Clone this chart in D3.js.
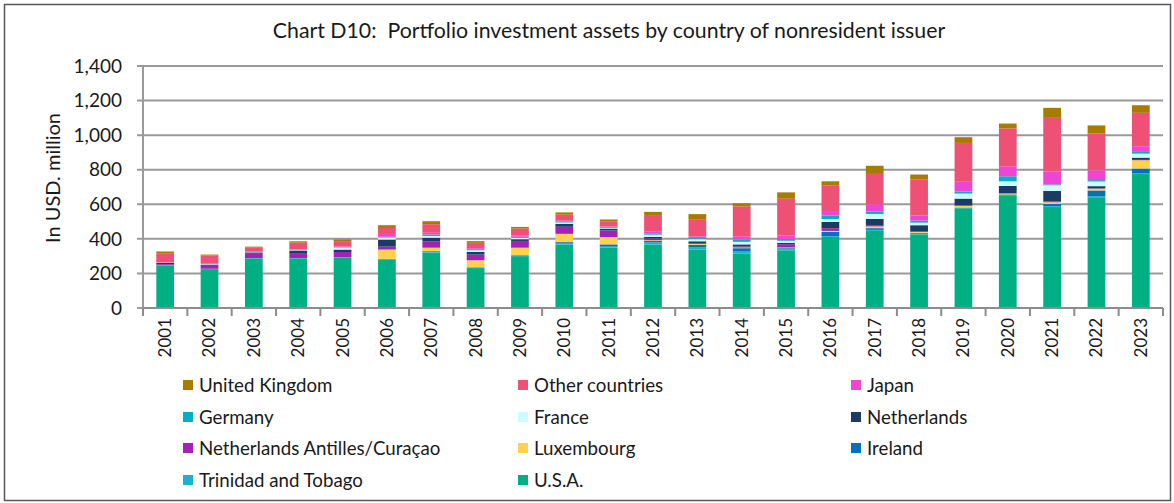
<!DOCTYPE html>
<html>
<head>
<meta charset="utf-8">
<script src="https://cdn.jsdelivr.net/npm/d3@7"></script>
<style>
  html, body { margin: 0; padding: 0; background: #ffffff; }
  svg { display: block; font-family: Lato, "Open Sans", sans-serif; }
</style>
</head>
<body>
<svg id="chart" width="1174" height="503"></svg>
<script>
// Portfolio investment assets by country of nonresident issuer, USD million
const years = ["2001","2002","2003","2004","2005","2006","2007","2008","2009","2010","2011","2012",
               "2013","2014","2015","2016","2017","2018","2019","2020","2021","2022","2023"];

const usa         = [245,225,287,287,291,282,320,231,295,367,349,367,338,314,334,411,446,426,573,648,584,637,775];
const trinidad    = [2,2,2,2,2,2,8,4,6,6,6,13,12,13,6,4,6,4,5,5,5,8,5];
const ireland     = [0,0,0,0,0,0,2,1,4,8,13,8,15,19,6,25,10,5,3,4,13,35,27];
const luxembourg  = [0,0,0,0,0,54,19,40,44,48,42,4,6,4,4,6,10,5,10,5,10,10,48];
const antilles    = [6,23,25,25,31,17,37,33,39,41,39,10,5,6,19,15,4,2,2,2,5,2,2];
const netherlands = [8,2,8,19,14,41,21,15,10,17,8,10,10,12,8,37,39,37,40,42,60,13,13];
const france      = [2,4,2,4,12,12,10,10,8,8,4,12,12,15,12,17,29,15,29,27,33,27,23];
const germany     = [0,0,0,0,2,4,8,6,6,6,6,8,6,13,10,19,15,12,12,29,5,8,10];
const japan       = [0,0,4,4,4,16,10,6,8,4,4,12,10,19,21,27,41,29,56,58,75,56,33];
const other       = [54,47,21,37,27,35,50,31,39,35,31,89,100,172,212,149,181,208,225,218,310,214,193];
const uk          = [10,6,6,8,14,16,17,10,10,13,10,23,29,19,37,23,42,29,33,29,58,46,44];

const yTicks = [0,200,400,600,800,1000,1200,1400];

// Stack order, bottom to top
const series = [
  {name: "U.S.A.",                          values: usa,         color: "#00B084"},
  {name: "Trinidad and Tobago",             values: trinidad,    color: "#1AB3CB"},
  {name: "Ireland",                         values: ireland,     color: "#0070C0"},
  {name: "Luxembourg",                      values: luxembourg,  color: "#FFD14F"},
  {name: "Netherlands Antilles/Curaçao",    values: antilles,    color: "#A322B3"},
  {name: "Netherlands",                     values: netherlands, color: "#1B3A64"},
  {name: "France",                          values: france,      color: "#CCFCFF"},
  {name: "Germany",                         values: germany,     color: "#00B0C8"},
  {name: "Japan",                           values: japan,       color: "#EE46D2"},
  {name: "Other countries",                 values: other,       color: "#EF5076"},
  {name: "United Kingdom",                  values: uk,          color: "#A87A00"}
];

const rows = years.map((y, i) => {
  const r = {year: y};
  series.forEach(s => { r[s.name] = s.values[i]; });
  return r;
});

const svg = d3.select("#chart");
const W = 1174, H = 503;

// outer frame
svg.append("rect")
  .attr("x", 4.5).attr("y", 4.5)
  .attr("width", W - 8).attr("height", H - 7)
  .attr("fill", "#fff").attr("stroke", "#595959").attr("stroke-width", 1.5);

// title
svg.append("text")
  .attr("x", 609).attr("y", 38)
  .attr("text-anchor", "middle")
  .style("white-space", "pre")
  .attr("font-size", 21.3).attr("fill", "#1a1a1a")
  .text("Chart D10:  Portfolio investment assets by country of nonresident issuer");

const plot = {left: 143, right: 1163, top: 66, bottom: 308};

const x = d3.scaleBand().domain(years).range([plot.left, plot.right]).paddingInner(0.6).paddingOuter(0.3);
const y = d3.scaleLinear().domain([0, 1400]).range([plot.bottom, plot.top]);

// gridlines
svg.append("g").selectAll("line").data(yTicks).join("line")
  .attr("x1", plot.left - 6).attr("x2", plot.right)
  .attr("y1", d => y(d)).attr("y2", d => y(d))
  .attr("stroke", "#999").attr("stroke-width", 2);

// y axis line
svg.append("line")
  .attr("x1", plot.left).attr("x2", plot.left)
  .attr("y1", plot.top).attr("y2", plot.bottom)
  .attr("stroke", "#999").attr("stroke-width", 2);

// y tick labels
svg.append("g").selectAll("text").data(yTicks).join("text")
  .attr("x", 122).attr("y", d => y(d))
  .attr("dy", "0.35em")
  .attr("text-anchor", "end")
  .attr("font-size", 19).attr("fill", "#1a1a1a")
  .text(d => d3.format(",")(d));

// y axis title
svg.append("text")
  .attr("transform", "translate(60,178) rotate(-90)")
  .attr("text-anchor", "middle")
  .attr("font-size", 20).attr("fill", "#1a1a1a")
  .text("In USD. million");

// stacked bars
const stack = d3.stack().keys(series.map(s => s.name));
const layers = stack(rows);

svg.append("g").selectAll("g").data(layers).join("g")
  .attr("fill", (d, i) => series[i].color)
  .selectAll("rect").data(d => d).join("rect")
  .attr("x", d => x(d.data.year))
  .attr("width", x.bandwidth())
  .attr("y", d => y(d[1]))
  .attr("height", d => Math.max(0, y(d[0]) - y(d[1])));

// x axis line and category boundary ticks
svg.append("line")
  .attr("x1", plot.left).attr("x2", plot.right)
  .attr("y1", plot.bottom).attr("y2", plot.bottom)
  .attr("stroke", "#8c8c8c").attr("stroke-width", 2);

const boundaries = d3.range(years.length + 1).map(i => plot.left + i * (plot.right - plot.left) / years.length);
svg.append("g").selectAll("line").data(boundaries).join("line")
  .attr("x1", d => d).attr("x2", d => d)
  .attr("y1", plot.bottom).attr("y2", plot.bottom + 8)
  .attr("stroke", "#8c8c8c").attr("stroke-width", 2);

// year labels, rotated
svg.append("g").selectAll("text").data(years).join("text")
  .attr("transform", d => `translate(${x(d) + x.bandwidth() / 2},318) rotate(-90)`)
  .attr("text-anchor", "end")
  .attr("dy", "0.35em")
  .attr("font-size", 17).attr("fill", "#1a1a1a")
  .text(d => d);

// legend: listed from top of stack downwards, three columns
const legendItems = series.slice().reverse();
const colX = [183, 518, 851];
const rowY = [385, 417, 448, 480];
const lg = svg.append("g").selectAll("g").data(legendItems).join("g")
  .attr("transform", (d, i) => `translate(${colX[i % 3]},${rowY[Math.floor(i / 3)]})`);
lg.append("rect")
  .attr("x", 0).attr("y", -5).attr("width", 10).attr("height", 10)
  .attr("fill", d => d.color);
lg.append("text")
  .attr("x", 16).attr("dy", "0.35em")
  .attr("font-size", 18.7).attr("fill", "#1a1a1a")
  .text(d => d.name);
</script>
</body>
</html>
